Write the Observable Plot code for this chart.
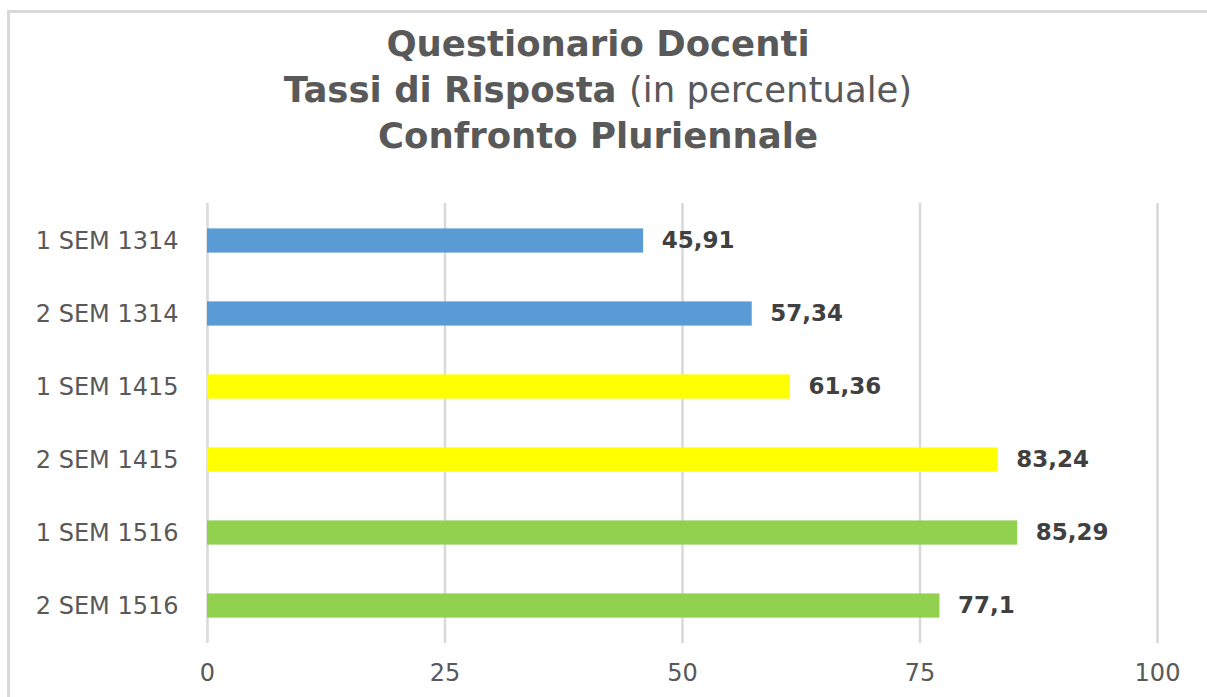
<!DOCTYPE html>
<html>
<head>
<meta charset="utf-8">
<script src="https://cdn.jsdelivr.net/npm/d3@7"></script>
<script src="https://cdn.jsdelivr.net/npm/@observablehq/plot@0.6"></script>
<style>
  html, body { margin: 0; padding: 0; background: #fff; overflow: hidden; }
  body { width: 1207px; height: 697px; position: relative; font-family: "DejaVu Sans", sans-serif; }
  #frame { position: absolute; left: 7px; top: 10px; width: 1400px; height: 900px; z-index: 5;
           border-left: 3px solid #d9d9d9; border-top: 3px solid #d9d9d9; box-sizing: border-box; pointer-events: none; }
  #title { position: absolute; left: 0; top: 21px; width: 1196px; text-align: center;
           color: #595959; font-size: 35.5px; line-height: 46px; font-weight: bold; }
  #title .light { font-weight: normal; }
  #chart { position: absolute; left: 0; top: 170px; }
</style>
</head>
<body>
<div id="title">
  <div>Questionario Docenti</div>
  <div>Tassi di Risposta <span class="light">(in percentuale)</span></div>
  <div>Confronto Pluriennale</div>
</div>
<div id="chart"></div>
<div id="frame"></div>
<script>
const categories = ["1 SEM 1314", "2 SEM 1314", "1 SEM 1415", "2 SEM 1415", "1 SEM 1516", "2 SEM 1516"];
const values = [45.91, 57.34, 61.36, 83.24, 85.29, 77.1];
const years = ["1314", "1314", "1415", "1415", "1516", "1516"];
const xTicks = [0, 25, 50, 75, 100];

const data = categories.map((c, i) => ({ cat: c, value: values[i], year: years[i] }));
const fmt = v => String(v).replace(".", ",");

const chart = Plot.plot({
  width: 1207,
  height: 527,
  marginTop: 33,
  marginBottom: 54,
  marginLeft: 207,
  marginRight: 50,
  style: { fontFamily: "DejaVu Sans, sans-serif", background: "transparent", overflow: "visible" },
  x: { domain: [0, 100], ticks: xTicks, label: null },
  y: { domain: categories, padding: 0, label: null },
  color: { domain: ["1314", "1415", "1516"], range: ["#5b9bd5", "#ffff00", "#92d050"] },
  marks: [
    Plot.ruleX(xTicks, { stroke: "#d9d9d9", strokeWidth: 2.5 }),
    Plot.barX(data, { x: "value", y: "cat", fill: "year", insetTop: 24.4, insetBottom: 24.4 }),
    Plot.text(data, { x: "value", y: "cat", text: d => fmt(d.value), dx: 18, textAnchor: "start",
      fill: "#404040", fontWeight: "bold", fontSize: 23 }),
    Plot.axisX(xTicks, { tickSize: 0, tickPadding: 20, fontSize: 24, color: "#595959", label: null, tickFormat: d => String(d) }),
    Plot.axisY({ tickSize: 0, tickPadding: 29, fontSize: 24, color: "#595959", label: null })
  ]
});
document.getElementById("chart").appendChild(chart);
</script>
</body>
</html>
